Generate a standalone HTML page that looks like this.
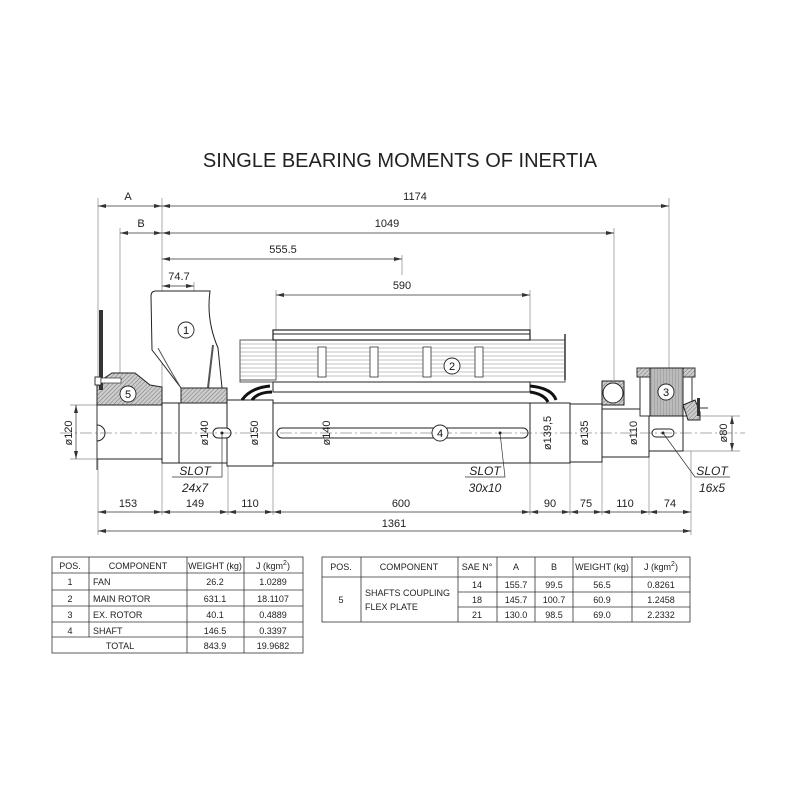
<!DOCTYPE html>
<html><head><meta charset="utf-8"><style>
html,body{margin:0;padding:0;background:#fff;}
svg{display:block;font-family:"Liberation Sans",sans-serif;}
</style></head><body>
<svg width="800" height="800" viewBox="0 0 800 800" xmlns="http://www.w3.org/2000/svg">
<defs>
<pattern id="h" width="3" height="3" patternUnits="userSpaceOnUse" patternTransform="rotate(45)">
<rect width="3" height="3" fill="#ccc"/><line x1="0" y1="0" x2="0" y2="3" stroke="#777" stroke-width="1"/></pattern>
<pattern id="v" width="3" height="3" patternUnits="userSpaceOnUse">
<rect width="3" height="3" fill="#bbb"/><line x1="0" y1="0" x2="0" y2="3" stroke="#888" stroke-width="0.8"/></pattern>
<marker id="a" markerWidth="8" markerHeight="4" refX="8" refY="2" orient="auto-start-reverse" markerUnits="userSpaceOnUse"><path d="M0,0L8,2L0,4z" fill="#333"/></marker>
</defs>
<text x="400" y="167" font-size="20" text-anchor="middle" fill="#222">SINGLE BEARING MOMENTS OF INERTIA</text>

<g stroke="#888" stroke-width="0.7" fill="none">
<line x1="98" y1="198" x2="98" y2="515"/>
<line x1="120" y1="228" x2="120" y2="380"/>
<line x1="162" y1="198" x2="162" y2="515"/>
<line x1="194" y1="282" x2="194" y2="292"/>
<line x1="402" y1="255" x2="402" y2="275"/>
<line x1="276" y1="290" x2="276" y2="330"/>
<line x1="530" y1="290" x2="530" y2="330"/>
<line x1="614" y1="228" x2="614" y2="380"/>
<line x1="669" y1="198" x2="669" y2="368"/>
<line x1="228" y1="463" x2="228" y2="515"/>
<line x1="273" y1="466" x2="273" y2="515"/>
<line x1="530" y1="463" x2="530" y2="515"/>
<line x1="570" y1="462" x2="570" y2="515"/>
<line x1="602" y1="462" x2="602" y2="515"/>
<line x1="649" y1="457" x2="649" y2="515"/>
<line x1="691" y1="451" x2="691" y2="535"/>
<line x1="98" y1="515" x2="98" y2="535"/>
<line x1="70" y1="405" x2="97" y2="405"/><line x1="70" y1="459" x2="97" y2="459"/>
<line x1="683" y1="416" x2="740" y2="416"/><line x1="683" y1="451" x2="740" y2="451"/>
</g>
<g stroke="#333" stroke-width="0.7" fill="none" marker-start="url(#a)" marker-end="url(#a)">
<line x1="98" y1="206" x2="162" y2="206"/>
<line x1="162" y1="206" x2="669" y2="206"/>
<line x1="120" y1="233" x2="162" y2="233"/>
<line x1="162" y1="233" x2="614" y2="233"/>
<line x1="162" y1="259" x2="402" y2="259"/>
<line x1="162" y1="286" x2="194" y2="286"/>
<line x1="276" y1="295" x2="530" y2="295"/>
<line x1="98" y1="512" x2="162" y2="512"/>
<line x1="162" y1="512" x2="228" y2="512"/>
<line x1="228" y1="512" x2="273" y2="512"/>
<line x1="273" y1="512" x2="530" y2="512"/>
<line x1="530" y1="512" x2="570" y2="512"/>
<line x1="570" y1="512" x2="602" y2="512"/>
<line x1="602" y1="512" x2="649" y2="512"/>
<line x1="649" y1="512" x2="691" y2="512"/>
<line x1="98" y1="531" x2="691" y2="531"/>
<line x1="76" y1="405" x2="76" y2="459"/>
<line x1="732" y1="416" x2="732" y2="451"/>
<line x1="212" y1="403" x2="212" y2="463"/>
<line x1="262" y1="400" x2="262" y2="466"/>
<line x1="335" y1="403" x2="335" y2="463"/>
<line x1="556" y1="403" x2="556" y2="463"/>
<line x1="592" y1="404" x2="592" y2="462"/>
<line x1="641" y1="409" x2="641" y2="457"/>
</g>
<g font-size="11" fill="#222" text-anchor="middle">
<text x="128" y="200">A</text><text x="415" y="200">1174</text>
<text x="141" y="227">B</text><text x="387" y="227">1049</text>
<text x="283" y="253">555.5</text><text x="179" y="280">74.7</text>
<text x="402" y="289">590</text>
<text x="128" y="507">153</text><text x="195" y="507">149</text><text x="250" y="507">110</text>
<text x="401" y="507">600</text><text x="550" y="507">90</text><text x="586" y="507">75</text>
<text x="625" y="507">110</text><text x="670" y="507">74</text><text x="394" y="527">1361</text>
</g>

<g stroke="#222" stroke-width="1" fill="#fff">
<rect x="97" y="405" width="65" height="54"/>
<rect x="162" y="403" width="17" height="60"/>
<rect x="179" y="403" width="48" height="60"/>
<rect x="227" y="400" width="46" height="66"/>
<rect x="273" y="403" width="257" height="60"/>
<rect x="530" y="403" width="40" height="60"/>
<rect x="570" y="404" width="32" height="58"/>
<rect x="602" y="409" width="47" height="48"/>
<rect x="649" y="416" width="34" height="35"/>
<rect x="277" y="428" width="251" height="10" rx="5"/>
<rect x="213" y="428" width="18" height="10" rx="5"/>
<rect x="652" y="429" width="22" height="8" rx="4"/>
<path d="M97 425 a8 8 0 0 1 0 16" />
</g>
<line x1="60" y1="433" x2="745" y2="433" stroke="#555" stroke-width="0.6" stroke-dasharray="12 3 2 3"/>

<path d="M97 383 L112 373 L135 373 L150 385 L162 387 L162 405 L97 405 Z" fill="url(#h)" stroke="#222"/>
<rect x="99" y="310" width="4" height="80" fill="#333"/>
<rect x="95" y="377" width="6" height="8" fill="#fff" stroke="#333"/>
<rect x="101" y="378" width="20" height="5" fill="#fff" stroke="#333" stroke-width="0.7"/>
<line x1="97" y1="405" x2="97" y2="470" stroke="#333"/>

<path d="M151 296 Q151 291 156 291 L210 291 Q206 320 218 348 L222 388 L181 388 Q160 360 152 350 Z" fill="#fff" stroke="#222"/>
<path d="M158 348 Q170 370 181 388" fill="none" stroke="#555"/>
<path d="M213 345 L208 388" fill="none" stroke="#555" stroke-width="2"/>
<path d="M181 388 L227 388 L227 403 L181 403 Z" fill="url(#h)" stroke="#222"/>

<rect x="240" y="340" width="36" height="40" fill="#fff" stroke="#555"/>
<g stroke="#888" stroke-width="0.6">
<line x1="240" y1="344" x2="565" y2="344"/><line x1="240" y1="348" x2="565" y2="348"/>
<line x1="240" y1="352" x2="565" y2="352"/><line x1="240" y1="356" x2="565" y2="356"/>
<line x1="240" y1="360" x2="565" y2="360"/><line x1="240" y1="364" x2="565" y2="364"/>
<line x1="240" y1="368" x2="565" y2="368"/><line x1="240" y1="372" x2="565" y2="372"/>
<line x1="240" y1="376" x2="565" y2="376"/>
</g>
<rect x="240" y="340" width="325" height="42" fill="none" stroke="#555"/>
<rect x="273" y="330" width="257" height="10" fill="#fff" stroke="#222" stroke-width="1.2"/>
<line x1="273" y1="334" x2="530" y2="334" stroke="#222"/>
<rect x="273" y="382" width="257" height="10" fill="#fff" stroke="#222"/>
<line x1="565" y1="334" x2="565" y2="380" stroke="#333" stroke-width="1.5"/>
<g fill="#fff" stroke="#333" stroke-width="0.8">
<rect x="318" y="347" width="8" height="30"/><rect x="370" y="347" width="8" height="30"/>
<rect x="423" y="347" width="8" height="30"/><rect x="475" y="347" width="8" height="30"/>
</g>
<g fill="none" stroke="#111" stroke-width="3">
<path d="M242 400 Q250 388 270 386"/><path d="M252 400 Q258 392 272 392"/>
<path d="M530 386 Q552 388 556 400"/><path d="M530 392 Q544 394 548 402"/>
</g>

<rect x="602" y="381" width="22" height="24" fill="url(#h)" stroke="#222"/>
<circle cx="613" cy="393" r="10" fill="#fff" stroke="#222"/>

<rect x="637" y="368" width="58" height="9" fill="url(#h)" stroke="#333"/>
<rect x="640" y="377" width="52" height="39" fill="#fff" stroke="#333"/>
<rect x="650" y="368" width="33" height="48" fill="url(#v)" stroke="#222"/>
<path d="M683 405 L695 400 L700 412 L700 420 L688 420 Z" fill="url(#h)" stroke="#222"/>
<rect x="697" y="398" width="3" height="18" fill="#333"/>
<line x1="700" y1="408" x2="708" y2="408" stroke="#333"/>

<g fill="#fff" stroke="#222" stroke-width="0.9">
<circle cx="186" cy="330" r="8"/><circle cx="452" cy="366" r="8"/>
<circle cx="440" cy="433" r="8"/><circle cx="128" cy="394" r="8"/><circle cx="666" cy="392" r="8"/>
</g>
<g font-size="11" text-anchor="middle" fill="#111">
<text x="186" y="334">1</text><text x="452" y="370">2</text><text x="440" y="437">4</text>
<text x="128" y="398">5</text><text x="666" y="396">3</text>
</g>

<g font-size="11" fill="#222" text-anchor="middle">
<text transform="translate(72,433) rotate(-90)">ø120</text>
<text transform="translate(208,433) rotate(-90)">ø140</text>
<text transform="translate(258,433) rotate(-90)">ø150</text>
<text transform="translate(330,433) rotate(-90)">ø140</text>
<text transform="translate(551,433) rotate(-90)">ø139,5</text>
<text transform="translate(588,433) rotate(-90)">ø135</text>
<text transform="translate(637,433) rotate(-90)">ø110</text>
<text transform="translate(727,433) rotate(-90)">ø80</text>
</g>
<g fill="#222"><circle cx="222" cy="433" r="1.5"/><circle cx="500" cy="433" r="1.5"/><circle cx="663" cy="433" r="1.5"/></g>
<g stroke="#333" stroke-width="0.7" fill="none">
<path d="M222 433 L222 477 L172 477"/>
<path d="M500 433 L505 477 L465 477"/>
<path d="M663 433 L695 477 L730 477"/>
</g>
<g font-size="12" font-style="italic" fill="#222" text-anchor="middle">
<text x="195" y="475">SLOT</text><text x="195" y="492">24x7</text>
<text x="485" y="475">SLOT</text><text x="485" y="492">30x10</text>
<text x="712" y="475">SLOT</text><text x="712" y="492">16x5</text>
</g>

<g stroke="#333" stroke-width="0.8" fill="none">
<rect x="52" y="557" width="251" height="96"/>
<line x1="52" y1="573" x2="303" y2="573"/><line x1="52" y1="590" x2="303" y2="590"/>
<line x1="52" y1="606" x2="303" y2="606"/><line x1="52" y1="622" x2="303" y2="622"/>
<line x1="52" y1="637" x2="303" y2="637"/>
<line x1="89" y1="557" x2="89" y2="637"/><line x1="187" y1="557" x2="187" y2="653"/>
<line x1="244" y1="557" x2="244" y2="653"/>
</g>
<g font-size="9" fill="#222">
<text x="70" y="569" text-anchor="middle">POS.</text><text x="138" y="569" text-anchor="middle">COMPONENT</text>
<text x="215" y="569" text-anchor="middle">WEIGHT (kg)</text><text x="273" y="569" text-anchor="middle">J (kgm<tspan font-size="7" dy="-4">2</tspan><tspan dy="4">)</tspan></text>
<text x="70" y="585" text-anchor="middle">1</text><text x="93" y="585">FAN</text><text x="215" y="585" text-anchor="middle">26.2</text><text x="273" y="585" text-anchor="middle">1.0289</text>
<text x="70" y="602" text-anchor="middle">2</text><text x="93" y="602">MAIN ROTOR</text><text x="215" y="602" text-anchor="middle">631.1</text><text x="273" y="602" text-anchor="middle">18.1107</text>
<text x="70" y="618" text-anchor="middle">3</text><text x="93" y="618">EX. ROTOR</text><text x="215" y="618" text-anchor="middle">40.1</text><text x="273" y="618" text-anchor="middle">0.4889</text>
<text x="70" y="634" text-anchor="middle">4</text><text x="93" y="634">SHAFT</text><text x="215" y="634" text-anchor="middle">146.5</text><text x="273" y="634" text-anchor="middle">0.3397</text>
<text x="120" y="649" text-anchor="middle">TOTAL</text><text x="215" y="649" text-anchor="middle">843.9</text><text x="273" y="649" text-anchor="middle">19.9682</text>
</g>

<g stroke="#333" stroke-width="0.8" fill="none">
<rect x="322" y="557" width="368" height="65"/>
<line x1="322" y1="577" x2="690" y2="577"/>
<line x1="458" y1="592" x2="690" y2="592"/><line x1="458" y1="607" x2="690" y2="607"/>
<line x1="361" y1="557" x2="361" y2="622"/><line x1="458" y1="557" x2="458" y2="622"/>
<line x1="497" y1="557" x2="497" y2="622"/><line x1="535" y1="557" x2="535" y2="622"/>
<line x1="573" y1="557" x2="573" y2="622"/><line x1="632" y1="557" x2="632" y2="622"/>
</g>
<g font-size="9" fill="#222" text-anchor="middle">
<text x="341" y="570">POS.</text><text x="409" y="570">COMPONENT</text><text x="477" y="570">SAE N°</text>
<text x="516" y="570">A</text><text x="554" y="570">B</text><text x="602" y="570">WEIGHT (kg)</text>
<text x="661" y="570">J (kgm<tspan font-size="7" dy="-4">2</tspan><tspan dy="4">)</tspan></text>
<text x="341" y="603">5</text>
<text x="365" y="596" text-anchor="start">SHAFTS COUPLING</text><text x="365" y="610" text-anchor="start">FLEX PLATE</text>
<text x="477" y="588">14</text><text x="516" y="588">155.7</text><text x="554" y="588">99.5</text><text x="602" y="588">56.5</text><text x="661" y="588">0.8261</text>
<text x="477" y="603">18</text><text x="516" y="603">145.7</text><text x="554" y="603">100.7</text><text x="602" y="603">60.9</text><text x="661" y="603">1.2458</text>
<text x="477" y="618">21</text><text x="516" y="618">130.0</text><text x="554" y="618">98.5</text><text x="602" y="618">69.0</text><text x="661" y="618">2.2332</text>
</g>
</svg>
</body></html>
